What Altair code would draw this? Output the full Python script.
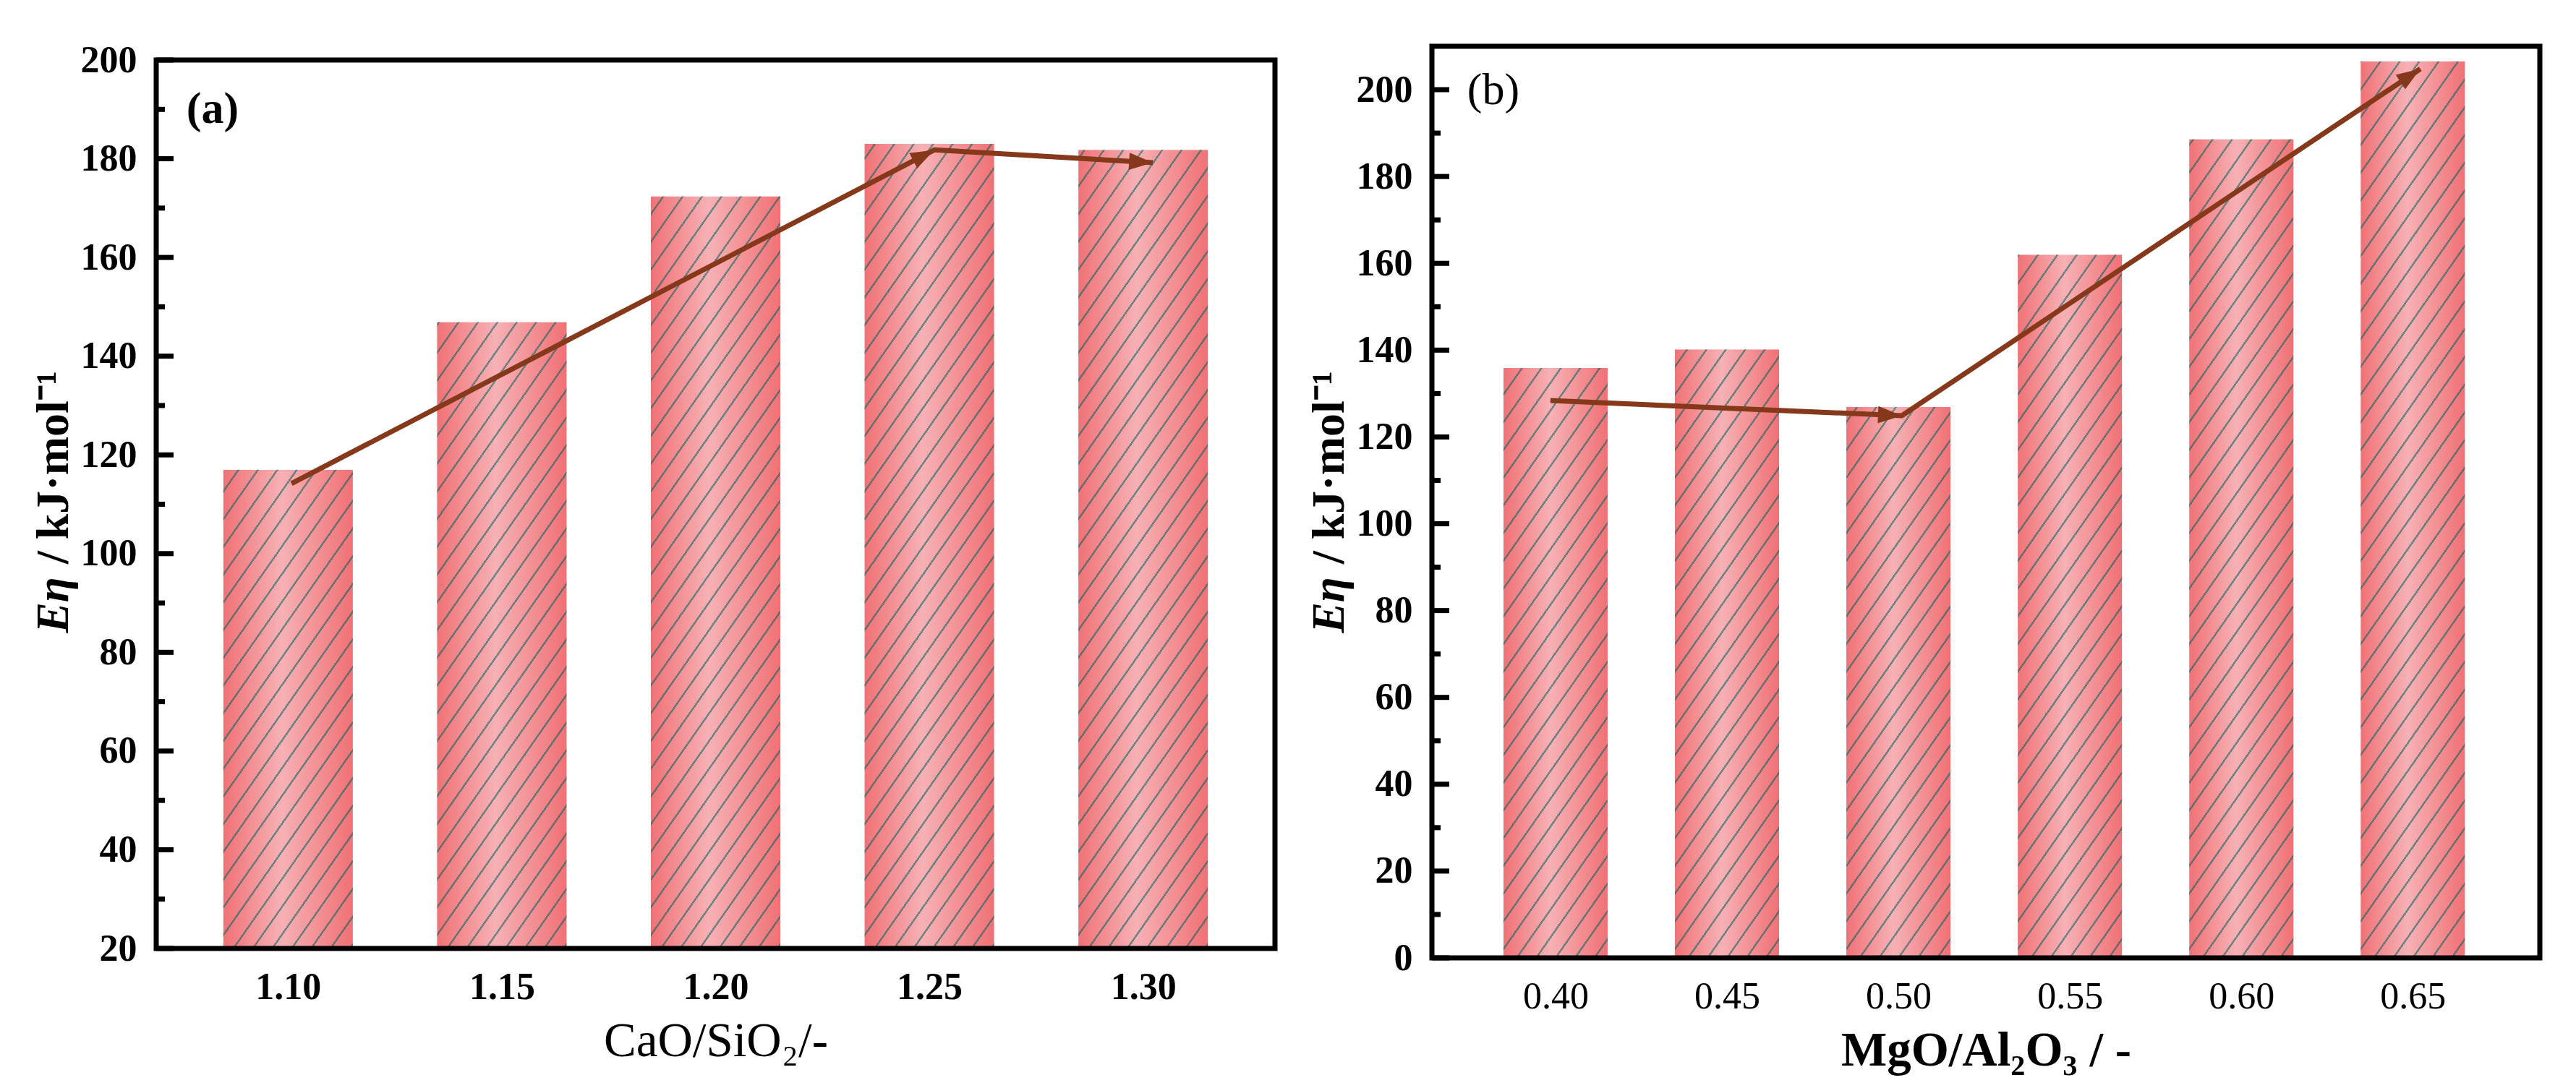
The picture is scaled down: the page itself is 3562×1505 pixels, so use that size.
import math

import altair as alt
import pandas as pd

# (a) activation energy vs CaO/SiO2
ca_si = [1.10, 1.15, 1.20, 1.25, 1.30]
e_eta_a = [117.0, 146.9, 172.4, 183.0, 181.8]
trend_a_x = [1.1008, 1.2512, 1.3023]
trend_a_y = [114.2, 181.8, 179.2]
major_a = [20, 40, 60, 80, 100, 120, 140, 160, 180, 200]
minor_a = [30, 50, 70, 90, 110, 130, 150, 170, 190]

# (b) activation energy vs MgO/Al2O3
mg_al = [0.40, 0.45, 0.50, 0.55, 0.60, 0.65]
e_eta_b = [135.9, 140.2, 126.9, 162.0, 188.6, 206.5]
trend_b_x = [0.3985, 0.501, 0.6522]
trend_b_y = [128.4, 124.9, 204.8]
major_b = [0, 20, 40, 60, 80, 100, 120, 140, 160, 180, 200]
minor_b = [10, 30, 50, 70, 90, 110, 130, 150, 170, 190]

y_title = ["Eη", "/ kJ·mol⁻¹"]

FONT = "Liberation Serif"
BROWN = "#86381b"
TEAL = "0,98,92"
HEAD = "M0,0L-2,-0.72L-2,0.72Z"


def shade():
    """Pink cylinder-like shading across the bar."""
    return {
        "gradient": "linear", "x1": 0, "y1": 0, "x2": 1, "y2": 0,
        "stops": [
            {"offset": 0, "color": "#f07276"},
            {"offset": 0.45, "color": "#f7b1b5"},
            {"offset": 1, "color": "#f07175"},
        ],
    }


def hatch(w, h, period=22, thick=2.5, theta=55):
    """Diagonal stripes as a gradient in the bar's bounding box."""
    s, c = math.sin(math.radians(theta)), math.cos(math.radians(theta))
    span = w * s + h * c
    m = span / ((w * s) ** 2 + (h * c) ** 2)
    on, off = f"rgba({TEAL},0.55)", f"rgba({TEAL},0)"
    stops = []
    pos = period / 2
    while pos + thick < span:
        a, b = pos / span, (pos + thick) / span
        stops += [
            {"offset": round(a, 6), "color": off},
            {"offset": round(a + 1e-4, 6), "color": on},
            {"offset": round(b, 6), "color": on},
            {"offset": round(b + 1e-4, 6), "color": off},
        ]
        pos += period
    return {"gradient": "linear", "x1": 0, "y1": 0,
            "x2": w * s * m, "y2": h * c * m, "stops": stops}


def panel(xs, ys, tx, ty, major, minor, xdom, ydom, w, plot_h, gap, bar_w,
          xtitle, title_weight, label_weight, tag, tag_weight, tag_xy):
    h = plot_h + gap
    kx = w / (xdom[1] - xdom[0])
    ky = plot_h / (ydom[1] - ydom[0])

    bars = pd.DataFrame({"x": xs, "y": ys})
    xsc = alt.Scale(domain=xdom, nice=False, zero=False)
    ysc = alt.Scale(domain=ydom, range=[h, gap], nice=False, zero=False)
    lo, hi = f"{ydom[0]}", f"{ydom[1]}"

    x_axis = alt.Axis(
        values=xs, format=".2f", title=xtitle, ticks=False, domain=False, grid=False,
        labelFont=FONT, labelFontSize=52, labelFontWeight=label_weight, labelColor="black",
        labelPadding=28, labelFlush=False,
        titleFont=FONT, titleFontSize=67, titleFontWeight=title_weight, titleColor="black",
        titlePadding=16,
    )
    y_axis = alt.Axis(
        values=major, title=None, ticks=False, domain=False, grid=False,
        labelFont=FONT, labelFontSize=52, labelFontWeight="bold", labelColor="black",
        labelPadding=27,
    )

    def X():
        return alt.X("x:Q", scale=xsc, axis=x_axis, title=xtitle)

    def Y(field):
        return alt.Y(field, scale=ysc, axis=y_axis, title=None)

    base = (
        alt.Chart(bars)
        .transform_calculate(lo=lo)
        .mark_bar(width=bar_w, fill=shade())
        .encode(x=X(), y=Y("y:Q"), y2="lo:Q")
    )
    stripes = (
        alt.Chart(bars)
        .transform_calculate(lo=lo, hi=hi)
        .mark_bar(width=bar_w, fill=hatch(bar_w, plot_h))
        .encode(x=X(), y=Y("hi:Q"), y2="lo:Q")
    )
    mask = (
        alt.Chart(bars)
        .transform_calculate(hi=hi)
        .mark_bar(width=bar_w + 2, color="white")
        .encode(x=X(), y=Y("hi:Q"), y2="y:Q")
    )

    trend = pd.DataFrame({"x": tx, "y": ty, "i": list(range(len(tx)))})
    line = alt.Chart(trend).mark_line(color=BROWN, strokeWidth=7, strokeCap="butt").encode(
        x=X(), y=Y("y:Q"), order="i:Q",
    )
    angles = [
        math.degrees(math.atan2(-(ty[i] - ty[i - 1]) * ky, (tx[i] - tx[i - 1]) * kx)) % 360
        for i in range(1, len(tx))
    ]
    heads_df = pd.DataFrame({"x": tx[1:], "y": ty[1:], "ang": angles})
    heads = alt.Chart(heads_df).mark_point(
        shape=HEAD, filled=True, size=1089, color=BROWN, opacity=1, strokeWidth=0
    ).encode(x=X(), y=Y("y:Q"), angle=alt.Angle("ang:Q", scale=None))

    ticks_major = alt.Chart(pd.DataFrame({"v": major})).mark_rule(
        color="black", strokeWidth=7
    ).encode(y=Y("v:Q"), x=alt.value(0), x2=alt.value(24))
    ticks_minor = alt.Chart(pd.DataFrame({"v": minor})).mark_rule(
        color="black", strokeWidth=7
    ).encode(y=Y("v:Q"), x=alt.value(0), x2=alt.value(12))

    label = alt.Chart(pd.DataFrame({"t": [tag]})).mark_text(
        font=FONT, fontSize=62, fontWeight=tag_weight, color="black",
        align="center", baseline="middle",
    ).encode(text="t:N", x=alt.value(tag_xy[0]), y=alt.value(tag_xy[1]))

    yt_style = dict(font=FONT, fontSize=64, fontWeight="bold", color="black",
                    angle=270, baseline="middle")
    yt_sym = alt.Chart(pd.DataFrame({"t": [y_title[0]]})).mark_text(
        align="right", fontStyle="italic", **yt_style
    ).encode(text="t:N", x=alt.value(-141), y=alt.value(734))
    yt_unit = alt.Chart(pd.DataFrame({"t": [y_title[1]]})).mark_text(
        align="left", **yt_style
    ).encode(text="t:N", x=alt.value(-141), y=alt.value(716))

    frame = (
        alt.Chart(pd.DataFrame({"k": [0]}))
        .transform_calculate(lo=lo, hi=hi)
        .mark_rect(filled=False, color="black", strokeWidth=7)
        .encode(x=alt.value(0), x2=alt.value(w), y=Y("hi:Q"), y2="lo:Q")
    )

    return alt.layer(
        base, stripes, mask, line, heads, ticks_major, ticks_minor,
        label, yt_sym, yt_unit, frame,
    ).properties(width=w, height=h)


panel_a = panel(
    ca_si, e_eta_a, trend_a_x, trend_a_y, major_a, minor_a,
    [1.07, 1.33], [20, 200], 1547, 1229, 19, 179,
    "CaO/SiO₂/-", "normal", "bold", "(a)", "bold", (78, 87),
)
panel_b = panel(
    mg_al, e_eta_b, trend_b_x, trend_b_y, major_b, minor_b,
    [0.365, 0.686], [0, 210], 1532, 1261, 0, 144,
    "MgO/Al₂O₃ / -", "bold", "normal", "(b)", "normal", (85, 61),
)

chart = (
    alt.hconcat(panel_a, panel_b, spacing=40)
    .properties(padding={"left": 35, "top": 49, "right": 10, "bottom": 10}, background="white")
    .configure_view(strokeWidth=0)
)

chart.save("out.html", embed_options={"renderer": "svg", "actions": False})
